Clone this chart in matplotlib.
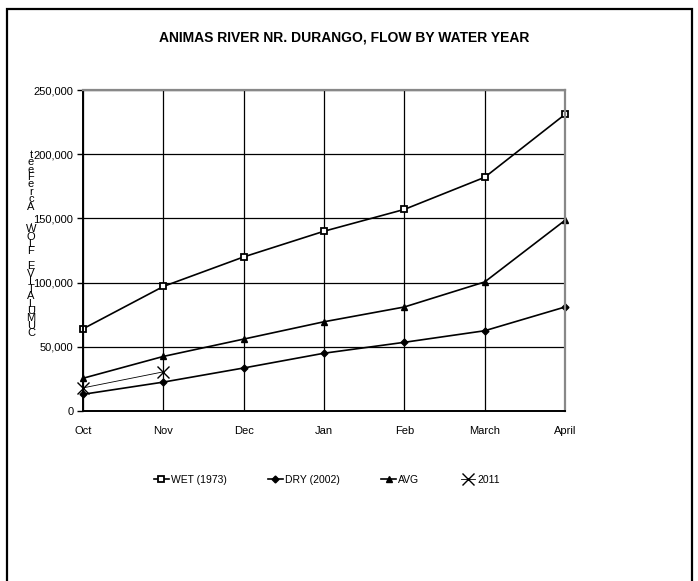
import matplotlib
matplotlib.use("Agg")
import matplotlib.pyplot as plt
from matplotlib.patches import Rectangle
from matplotlib.ticker import FuncFormatter

plt.rcParams["font.family"] = ["Liberation Sans Narrow", "Liberation Sans", "DejaVu Sans"]

# Cumulative flow (acre-feet) by month of the water year
months = ["Oct", "Nov", "Dec", "Jan", "Feb", "March", "April"]
wet_1973 = [64000, 97000, 120000, 140000, 157000, 182000, 231000]
dry_2002 = [13000, 22500, 33500, 45000, 53500, 62500, 81000]
avg_flow = [25500, 42500, 56000, 69500, 81000, 100500, 148500]
wy_2011 = [18000, 30500]

fig = plt.figure(figsize=(6.98, 5.81), dpi=100)

# outer chart border (open at the bottom)
fig.patches.append(Rectangle((7 / 698, -0.05), 685 / 698, 1.05 - 9 / 581,
                             transform=fig.transFigure, fill=False,
                             edgecolor="black", linewidth=1.6))

ax = fig.add_axes([83 / 698, 1 - 411 / 581, 482 / 698, 321 / 581])
x = list(range(len(months)))

ax.plot(x, wet_1973, "-s", color="black", lw=1.2, ms=5,
        mfc="white", mec="black", mew=1.3, label="WET (1973)", clip_on=False)
ax.plot(x, dry_2002, "-D", color="black", lw=1.2, ms=3.5,
        mfc="black", mec="black", label="DRY (2002)", clip_on=False)
ax.plot(x, avg_flow, "-^", color="black", lw=1.2, ms=5,
        mfc="black", mec="black", label="AVG", clip_on=False)
ax.plot(x[:len(wy_2011)], wy_2011, "-x", color="black", lw=0.6, ms=8,
        mew=1.0, label="2011", clip_on=False)

ax.set_xlim(0, len(months) - 1)
ax.set_ylim(0, 250000)
ax.set_xticks(x)
ax.set_xticklabels(months)
ax.set_yticks(range(0, 250001, 50000))
ax.yaxis.set_major_formatter(FuncFormatter(lambda v, p: f"{int(v):,}"))
ax.grid(True, color="black", lw=0.9)
ax.set_axisbelow(True)
ax.tick_params(axis="y", length=4, width=1, pad=3, labelsize=8)
ax.tick_params(axis="x", length=0, pad=11, labelsize=8)
for s in ("left", "bottom"):
    ax.spines[s].set_linewidth(1.4)
for s in ("top", "right"):
    ax.spines[s].set_color("#888888")
    ax.spines[s].set_linewidth(1.6)

fig.text(344 / 698, 1 - 38 / 581, "ANIMAS RIVER NR. DURANGO, FLOW BY WATER YEAR",
         ha="center", va="center", fontsize=10, fontweight="bold")

# stacked axis title, read from the bottom up
ylab = "CUMULATIVE FLOW, AcreFeet"
fig.text(31 / 698, 1 - 244 / 581, "\n".join(reversed(ylab)),
         ha="center", va="center", fontsize=8, linespacing=0.68)

fig.legend(loc="center", bbox_to_anchor=(327 / 698, 1 - 480 / 581), ncol=4,
           frameon=False, fontsize=7.5, handlelength=1.4, handletextpad=0.2,
           columnspacing=4.0)

fig.savefig("out.png", dpi=100)
